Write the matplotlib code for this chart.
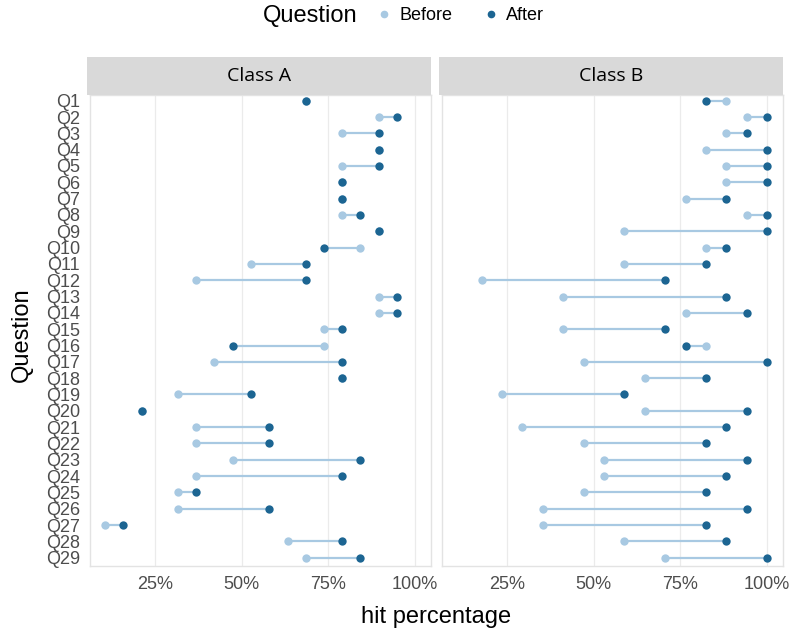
import matplotlib
matplotlib.use('Agg')
import matplotlib.pyplot as plt
from matplotlib.lines import Line2D
import numpy as np

plt.rcParams['font.family'] = ['Liberation Sans', 'DejaVu Sans']

questions = ['Q' + str(i) for i in range(1, 30)]

# class A (19 students), percentages
a_before = [68.4, 89.5, 78.9, 89.5, 78.9, 78.9, 78.9, 78.9, 89.5, 84.2,
            52.6, 36.8, 89.5, 89.5, 73.7, 73.7, 42.1, 78.9, 31.6, 21.1,
            36.8, 36.8, 47.4, 36.8, 31.6, 31.6, 10.5, 63.2, 68.4]
a_after = [68.4, 94.7, 89.5, 89.5, 89.5, 78.9, 78.9, 84.2, 89.5, 73.7,
           68.4, 68.4, 94.7, 94.7, 78.9, 47.4, 78.9, 78.9, 52.6, 21.1,
           57.9, 57.9, 84.2, 78.9, 36.8, 57.9, 15.8, 78.9, 84.2]

# class B (17 students)
b_before = [88.2, 94.1, 88.2, 82.4, 88.2, 88.2, 76.5, 94.1, 58.8, 82.4,
            58.8, 17.6, 41.2, 76.5, 41.2, 82.4, 47.1, 64.7, 23.5, 64.7,
            29.4, 47.1, 52.9, 52.9, 47.1, 35.3, 35.3, 58.8, 70.6]
b_after = [82.4, 100.0, 94.1, 100.0, 100.0, 100.0, 88.2, 100.0, 100.0, 88.2,
           82.4, 70.6, 88.2, 94.1, 70.6, 76.5, 100.0, 82.4, 58.8, 94.1,
           88.2, 82.4, 94.1, 88.2, 82.4, 94.1, 82.4, 88.2, 100.0]

classes = ['Class A', 'Class B']
data = [(a_before, a_after), (b_before, b_after)]

c_before = '#a8c9e2'
c_after = '#1c6592'

W, H = 790, 634
fig = plt.figure(figsize=(W / 100, H / 100), dpi=100)

allv = a_before + a_after + b_before + b_after
lo, hi = min(allv), max(allv)
pad = 0.05 * (hi - lo)

panels = [(89.5, 430.5), (441.5, 782.5)]
top, bottom = 95, 566
strip_top = 57

y = np.arange(len(questions))
for k, (x0, x1) in enumerate(panels):
    ax = fig.add_axes([x0 / W, 1 - bottom / H, (x1 - x0) / W, (bottom - top) / H])
    before, after = data[k]
    for spine in ax.spines.values():
        spine.set_color('#e3e3e3')
        spine.set_linewidth(1)
    ax.set_xlim(lo - pad, hi + pad)
    ax.set_ylim(len(questions) - 1 + 0.51, -0.35)
    ax.set_xticks([25, 50, 75, 100])
    ax.set_xticklabels(['25%', '50%', '75%', '100%'])
    ax.grid(axis='x', color='#ebebeb', linewidth=0.9)
    ax.set_axisbelow(True)
    ax.hlines(y, before, after, color=c_before, linewidth=1.6, zorder=2)
    ax.scatter(before, y, s=36, color=c_before, zorder=3, linewidths=0)
    ax.scatter(after, y, s=36, color=c_after, zorder=4, linewidths=0)
    ax.tick_params(length=0, labelsize=13, labelcolor='#4d4d4d', pad=7)
    if k == 0:
        ax.set_yticks(y)
        ax.set_yticklabels(questions)
    else:
        ax.set_yticks([])

    # strip
    sax = fig.add_axes([(x0 - 2.5) / W, 1 - top / H, (x1 - x0 + 2.5) / W, (top - strip_top) / H])
    sax.set_facecolor('#d9d9d9')
    sax.set_xticks([])
    sax.set_yticks([])
    for spine in sax.spines.values():
        spine.set_visible(False)
    sax.text(0.5, 0.5, classes[k], ha='center', va='center', fontsize=14,
             family=['Open Sans', 'DejaVu Sans'], color='black')

fig.text((89.5 + 782.5) / 2 / W, 1 - 617 / H, 'hit percentage', ha='center', va='center', fontsize=17)
fig.text(22 / W, 1 - 335 / H, 'Question', ha='center', va='center', rotation=90, fontsize=17)

# legend
fig.text(310 / W, 1 - 16 / H, 'Question', ha='center', va='center', fontsize=17)
handles = [Line2D([], [], marker='o', linestyle='', color=c_before, markersize=4.5),
           Line2D([], [], marker='o', linestyle='', color=c_after, markersize=4.5)]
fig.legend(handles, ['Before', 'After'], ncol=2, frameon=False, fontsize=13,
           loc='center left', bbox_to_anchor=(361 / W, 1 - 16 / H),
           handletextpad=0.43, columnspacing=1.75, handlelength=0.8)

fig.savefig('out.png', dpi=100)
